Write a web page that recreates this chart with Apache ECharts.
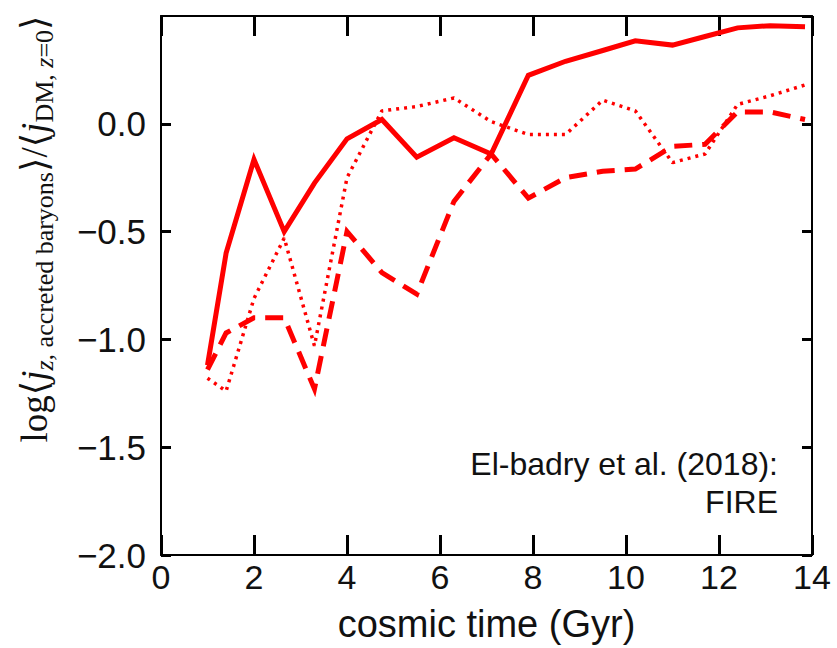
<!DOCTYPE html>
<html>
<head>
<meta charset="utf-8">
<script src="https://cdn.jsdelivr.net/npm/echarts@6/dist/echarts.min.js"></script>
<style>
  html, body { margin: 0; padding: 0; background: #fff; }
  #chart { width: 837px; height: 648px; }
</style>
</head>
<body>
<div id="chart"></div>
<script>
// cosmic time of each snapshot (Gyr)
var times = [1.0, 1.4, 2.0, 2.65, 3.3, 4.0, 4.75, 5.5, 6.3, 7.1, 7.9, 8.7, 9.5, 10.2, 11.0, 11.7, 12.4, 13.1, 13.85];
var solidVals = [-1.12, -0.60, -0.165, -0.50, -0.275, -0.07, 0.02, -0.155, -0.065, -0.14, 0.225, 0.29, 0.34, 0.385, 0.365, 0.405, 0.445, 0.455, 0.45];
var dashedVals = [-1.14, -0.97, -0.90, -0.90, -1.23, -0.50, -0.69, -0.79, -0.36, -0.14, -0.345, -0.25, -0.22, -0.21, -0.105, -0.095, 0.055, 0.055, 0.02];
var dottedVals = [-1.18, -1.24, -0.81, -0.53, -1.03, -0.25, 0.06, 0.08, 0.12, 0.01, -0.05, -0.05, 0.11, 0.06, -0.18, -0.14, 0.09, 0.13, 0.18];
var xTicks = [0, 14, 2];      // min, max, interval
var yTicks = [-2.0, 0.5, 0.5];

var red = '#ff0000';
var sans = 'Liberation Sans, Arial, sans-serif';
var serif = 'Liberation Serif, DejaVu Serif, serif';

function pairs(vals) {
  return times.map(function(t, i) { return [t, vals[i]]; });
}

var chart = echarts.init(document.getElementById('chart'), null, { renderer: 'svg' });

var axisLine = { show: true, onZero: false, lineStyle: { color: '#000', width: 2 } };

chart.setOption({
  animation: false,
  grid: { left: 161, right: 25, top: 16, bottom: 93 },
  xAxis: [{
    type: 'value', min: xTicks[0], max: xTicks[1], interval: xTicks[2], position: 'bottom',
    axisLine: axisLine,
    axisTick: { inside: true, length: 20, lineStyle: { color: '#000', width: 3 } },
    axisLabel: { fontSize: 34, color: '#111', margin: 5, fontFamily: sans },
    splitLine: { show: false },
    name: 'cosmic time (Gyr)', nameLocation: 'middle', nameGap: 50,
    nameTextStyle: { fontSize: 38, color: '#111', fontFamily: sans }
  }, {
    type: 'value', min: xTicks[0], max: xTicks[1], interval: xTicks[2], position: 'top',
    axisLine: axisLine,
    axisTick: { inside: true, length: 20, lineStyle: { color: '#000', width: 3 } },
    axisLabel: { show: false },
    splitLine: { show: false }
  }],
  yAxis: [{
    type: 'value', min: yTicks[0], max: yTicks[1], interval: yTicks[2], position: 'left',
    axisLine: axisLine,
    axisTick: { inside: true, length: 10, lineStyle: { color: '#000', width: 3 } },
    axisLabel: {
      fontSize: 35, color: '#111', margin: 15, fontFamily: sans, showMaxLabel: false,
      formatter: function(v) { return v.toFixed(1).replace('-', '\u2212'); }
    },
    splitLine: { show: false }
  }, {
    type: 'value', min: yTicks[0], max: yTicks[1], interval: yTicks[2], position: 'right',
    axisLine: axisLine,
    axisTick: { inside: true, length: 10, lineStyle: { color: '#000', width: 3 } },
    axisLabel: { show: false },
    splitLine: { show: false }
  }],
  graphic: [{
    type: 'text', x: 34, y: 229, rotation: Math.PI / 2,
    style: {
      text: '{m|log\u27e8}{i|j}{si|z,}{s| accreted baryons}{m|\u27e9/\u27e8}{i|j}{s|DM, }{si|z}{s|=0}{m|\u27e9}',
      textAlign: 'center', textVerticalAlign: 'middle', fill: '#111',
      rich: {
        m: { fontSize: 37, fontFamily: serif, lineHeight: 46, verticalAlign: 'middle' },
        i: { fontSize: 37, fontFamily: serif, fontStyle: 'italic', lineHeight: 46, verticalAlign: 'middle' },
        s: { fontSize: 26, fontFamily: serif, lineHeight: 21, verticalAlign: 'bottom' },
        si: { fontSize: 26, fontFamily: serif, fontStyle: 'italic', lineHeight: 21, verticalAlign: 'bottom' }
      }
    }
  }, {
    type: 'text', x: 778, y: 445,
    style: {
      text: 'El-badry et al. (2018):\nFIRE',
      textAlign: 'right', textVerticalAlign: 'top',
      font: '32px ' + sans, lineHeight: 38, fill: '#111'
    }
  }],
  series: [{
    name: 'solid', type: 'line', data: pairs(solidVals), showSymbol: false,
    lineStyle: { color: red, width: 5, join: 'miter' }
  }, {
    name: 'dashed', type: 'line', data: pairs(dashedVals), showSymbol: false,
    lineStyle: { color: red, width: 5, type: [18, 10], join: 'miter' }
  }, {
    name: 'dotted', type: 'line', data: pairs(dottedVals), showSymbol: false,
    lineStyle: { color: red, width: 3.5, type: [3, 5] }
  }]
});
</script>
</body>
</html>
